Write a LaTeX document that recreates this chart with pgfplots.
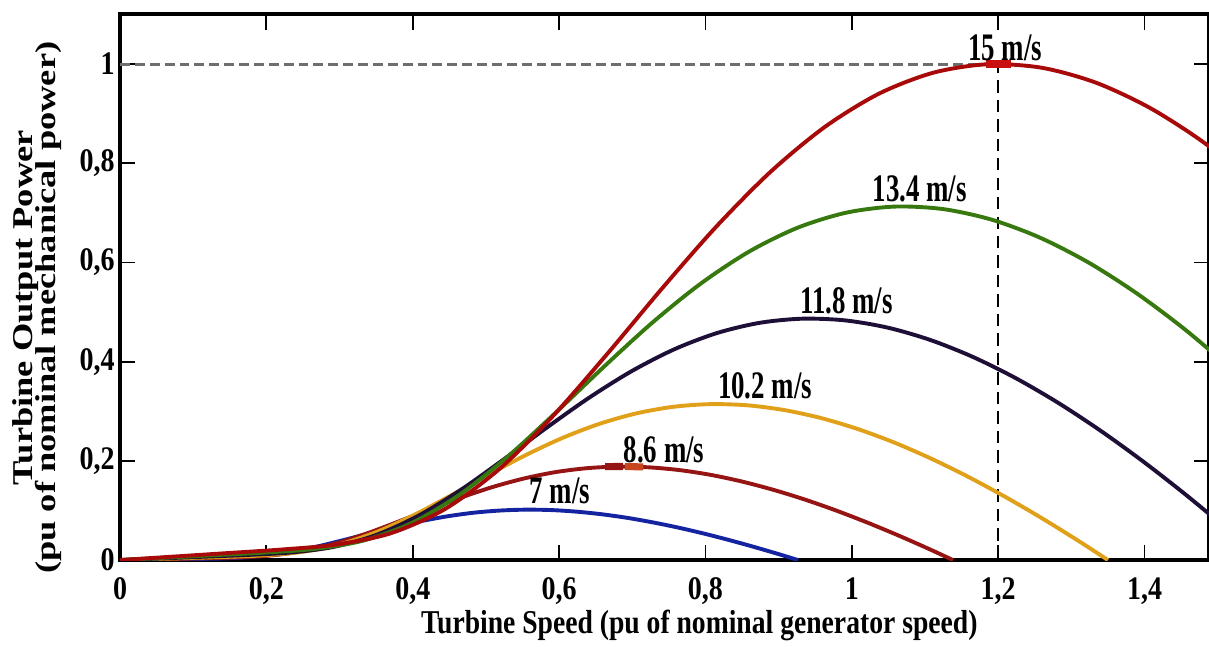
\documentclass[border=0pt]{standalone}
\usepackage{fontspec}
\setmainfont{Liberation Serif}
\newfontfamily\tickfont{Liberation Serif}[FakeStretch=0.85]
\newfontfamily\labfont{Liberation Serif}[FakeStretch=0.83]
\newfontfamily\ylabfont{Liberation Serif}[FakeStretch=1.27]
\newfontfamily\annfont{Liberation Serif}[FakeStretch=0.69]
\usepackage{pgfplots}
\pgfplotsset{compat=1.18}
\definecolor{cxv}{HTML}{A80A0A}
\definecolor{cxiii}{HTML}{37780F}
\definecolor{cxi}{HTML}{1E0F37}
\definecolor{cx}{HTML}{E1A019}
\definecolor{cviii}{HTML}{961414}
\definecolor{cvii}{HTML}{1423A0}
\definecolor{dashgray}{HTML}{6E6E6E}
\definecolor{peakred}{HTML}{C81010}
\definecolor{peakorange}{HTML}{C8461E}

\begin{document}
\begin{tikzpicture}
\path[use as bounding box] (-1.191cm,-0.854cm) rectangle (10.807cm,5.558cm);
\begin{axis}[
  at={(0,0)}, anchor=south west,
  scale only axis, width=10.807cm, height=5.415cm,
  xmin=0, xmax=1.488, ymin=0, ymax=1.1,
  xtick={0,0.2,0.4,0.6,0.8,1,1.2,1.4},
  ytick={0,0.2,0.4,0.6,0.8,1},
  /pgf/number format/use comma,
  /pgf/number format/assume math mode=true,
  tick align=inside, major tick length=0.15cm,
  tick style={line width=0.5pt, black},
  axis line style={line width=1.1pt},
  tick label style={font=\tickfont\bfseries\fontsize{9.3}{10}\selectfont},
  xticklabel style={yshift=-0.05cm},
  yticklabel style={xshift=0.07cm},
  xlabel={Turbine Speed (pu of nominal generator speed)},
  xlabel style={font=\labfont\bfseries\fontsize{9.4}{11}\selectfont,
    at={(axis description cs:0.532,-0.1339)}, anchor=base},
  ylabel={Turbine Output Power\\[-1.9pt](pu of nominal mechanical power)},
  ylabel style={font=\ylabfont\bfseries\fontsize{8.1}{6.5}\selectfont,
    align=center, at={(axis description cs:-0.0762,0.4625)}, anchor=center},
  every axis plot/.append style={line width=1.1pt},
]
% reference lines
\addplot[dashgray, line width=0.85pt, dash pattern=on 2.8pt off 1.4pt] coordinates {(0,1) (1.2,1)};
\addplot[black, line width=0.5pt, dash pattern=on 3.5pt off 2pt] coordinates {(1.2,0) (1.2,1)};

% 7 m/s
\addplot[cvii, smooth] coordinates {
(0,0) (0.0346,0.0007) (0.0691,0.0014) (0.1037,0.0022) (0.1383,0.0032) (0.1728,0.0055)
(0.2074,0.0105) (0.2420,0.0187) (0.2765,0.0297) (0.3111,0.0424) (0.3457,0.0557)
(0.3802,0.0683) (0.4148,0.0795) (0.4494,0.0887) (0.4840,0.0956) (0.5185,0.0998)
(0.5531,0.1016) (0.5877,0.1009) (0.6222,0.0978) (0.6568,0.0926) (0.6914,0.0855)
(0.7259,0.0766) (0.7605,0.0662) (0.7951,0.0544) (0.8296,0.0414) (0.8642,0.0274)
(0.8988,0.0125) (0.9264,0)
};
% 8.6 m/s
\addplot[cviii, smooth] coordinates {
(0,0) (0.0425,0.0013) (0.0849,0.0027) (0.1274,0.0040) (0.1699,0.0059) (0.2123,0.0102)
(0.2548,0.0195) (0.2973,0.0346) (0.3398,0.0550) (0.3822,0.0786) (0.4247,0.1032)
(0.4672,0.1267) (0.5096,0.1475) (0.5521,0.1645) (0.5946,0.1772) (0.6370,0.1851)
(0.6795,0.1884) (0.7220,0.1870) (0.7644,0.1814) (0.8069,0.1718) (0.8494,0.1585)
(0.8918,0.1420) (0.9343,0.1227) (0.9768,0.1008) (1.0193,0.0767) (1.0617,0.0508)
(1.1042,0.0232) (1.1382,0)
};
% 10.2 m/s
\addplot[cx, smooth] coordinates {
(0,0) (0.0504,0.0022) (0.1007,0.0045) (0.1511,0.0067) (0.2015,0.0099) (0.2519,0.0171)
(0.3022,0.0325) (0.3526,0.0578) (0.4030,0.0918) (0.4533,0.1312) (0.5037,0.1722)
(0.5541,0.2114) (0.6044,0.2461) (0.6548,0.2745) (0.7052,0.2956) (0.7556,0.3089)
(0.8059,0.3143) (0.8563,0.3121) (0.9067,0.3026) (0.9570,0.2866) (1.0074,0.2645)
(1.0578,0.2370) (1.1081,0.2047) (1.1585,0.1682) (1.2089,0.1280) (1.2593,0.0847)
(1.3096,0.0387) (1.3499,0)
};
% 11.8 m/s
\addplot[cxi, smooth] coordinates {
(0,0) (0.0583,0.0034) (0.1165,0.0069) (0.1748,0.0104) (0.2331,0.0153) (0.2914,0.0264)
(0.3496,0.0503) (0.4079,0.0895) (0.4662,0.1421) (0.5244,0.2031) (0.5827,0.2666)
(0.6410,0.3273) (0.6993,0.3810) (0.7575,0.4250) (0.8158,0.4577) (0.8741,0.4783)
(0.9323,0.4866) (0.9906,0.4832) (1.0489,0.4686) (1.1072,0.4437) (1.1654,0.4095)
(1.2237,0.3669) (1.2820,0.3169) (1.3402,0.2604) (1.3985,0.1982) (1.4568,0.1311)
(1.5151,0.0599)
};
% 13.4 m/s
\addplot[cxiii, smooth] coordinates {
(0,0) (0.0662,0.0050) (0.1323,0.0101) (0.1985,0.0152) (0.2647,0.0224) (0.3309,0.0387)
(0.3970,0.0736) (0.4632,0.1310) (0.5294,0.2081) (0.5956,0.2975) (0.6617,0.3904)
(0.7279,0.4793) (0.7941,0.5580) (0.8602,0.6224) (0.9264,0.6703) (0.9926,0.7004)
(1.0588,0.7126) (1.1249,0.7075) (1.1911,0.6862) (1.2573,0.6498) (1.3235,0.5997)
(1.3896,0.5373) (1.4558,0.4641) (1.5220,0.3813)
};
% 15 m/s
\addplot[cxv, smooth] coordinates {
(0,0) (0.0741,0.0071) (0.1481,0.0142) (0.2222,0.0214) (0.2963,0.0314) (0.3704,0.0543)
(0.4444,0.1032) (0.5185,0.1838) (0.5926,0.2920) (0.6667,0.4173) (0.7407,0.5477)
(0.8148,0.6723) (0.8889,0.7827) (0.9630,0.8731) (1.0370,0.9402) (1.1111,0.9824)
(1.1852,0.9995) (1.2593,0.9925) (1.3333,0.9625) (1.4074,0.9114) (1.4815,0.8412)
(1.5556,0.7537)
};

% peak markers
\addplot[peakred, line width=2pt] coordinates {(1.183,1.0) (1.217,1.0)};
\addplot[cviii, line width=2pt] coordinates {(0.663,0.1885) (0.687,0.1886)};
\addplot[peakorange, line width=2pt] coordinates {(0.690,0.1886) (0.715,0.1878)};

% labels
\begin{scope}[every node/.style={font=\annfont\bfseries\fontsize{11}{12}\selectfont, anchor=base, inner sep=0pt}]
\node at (axis cs:1.2095,1.008) {15 m/s};
\node at (axis cs:1.0927,0.7224) {13.4 m/s};
\node at (axis cs:0.9928,0.498) {11.8 m/s};
\node at (axis cs:0.8815,0.3266) {10.2 m/s};
\node at (axis cs:0.7435,0.1976) {8.6 m/s};
\node at (axis cs:0.6013,0.115) {7 m/s};
\end{scope}
\end{axis}
\end{tikzpicture}
\end{document}
